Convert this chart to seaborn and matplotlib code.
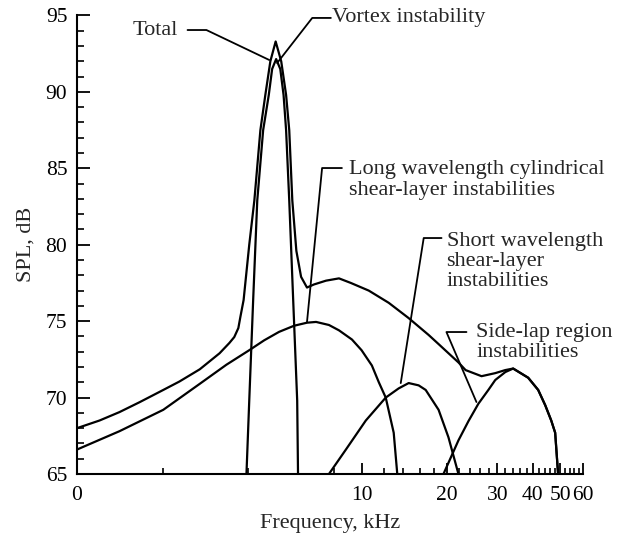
import matplotlib
matplotlib.use("Agg")
import matplotlib.pyplot as plt
from matplotlib.ticker import FixedLocator, NullFormatter, MultipleLocator
import pandas as pd
import seaborn as sns

# ---------------- data ----------------
total_freq = [1.00, 1.20, 1.41, 1.66, 2.01, 2.29, 2.70, 3.17, 3.43, 3.57, 3.69, 3.75,
              3.85, 4.03, 4.20, 4.41, 4.59, 4.78, 4.99, 5.22, 5.43, 5.57, 5.71, 5.90,
              6.13, 6.43, 6.80, 7.50, 8.33, 9.17, 10.6, 12.46, 14.64, 17.2, 18.65,
              21.9, 23.2, 26.4, 29.5, 32.0, 34.1, 38.5, 41.75, 44.2, 46.4, 47.9, 49.05]
total_spl = [68.0, 68.5, 69.05, 69.7, 70.5, 71.05, 71.85, 72.9, 73.57, 73.96, 74.55, 75.27,
             76.38, 80.0, 82.9, 87.5, 89.8, 92.0, 93.3, 92.0, 89.8, 87.5, 82.9, 79.6,
             77.9, 77.2, 77.4, 77.65, 77.8, 77.5, 77.0, 76.2, 75.2, 74.1, 73.5,
             72.3, 71.8, 71.4, 71.6, 71.8, 71.9, 71.3, 70.5, 69.5, 68.5, 67.7, 65.0]

vortex_freq = [3.94, 4.03, 4.16, 4.30, 4.51, 4.72, 4.85, 5.01, 5.18, 5.32, 5.43, 5.57,
               5.75, 5.94, 5.98]
vortex_spl = [65.0, 69.8, 76.4, 82.9, 87.5, 89.8, 91.5, 92.15, 91.5, 89.8, 87.5, 82.9,
              76.4, 69.8, 65.0]

long_freq = [1.00, 1.41, 2.01, 2.70, 3.35, 4.03, 4.55, 5.13, 5.79, 6.43, 6.92, 7.68,
             8.33, 9.25, 10.0, 10.87, 11.5, 12.16, 12.97, 13.35]
long_spl = [66.6, 67.8, 69.2, 70.9, 72.15, 73.1, 73.75, 74.3, 74.7, 74.9, 74.95, 74.75,
            74.4, 73.8, 73.1, 72.1, 71.0, 70.0, 67.7, 65.0]

short_freq = [7.68, 8.81, 10.35, 12.16, 13.5, 14.64, 15.87, 16.8, 18.65, 20.2, 21.9]
short_spl = [65.0, 66.6, 68.5, 70.0, 70.6, 70.95, 70.8, 70.5, 69.2, 67.4, 65.0]

side_freq = [19.4, 21.9, 23.75, 25.74, 27.9, 29.5, 32.0, 34.1, 38.5, 41.75, 44.2,
             46.4, 47.9, 49.05]
side_spl = [65.0, 67.2, 68.46, 69.6, 70.5, 71.15, 71.67, 71.9, 71.3, 70.5, 69.5,
            68.5, 67.7, 65.0]

x_major = [1, 10, 20, 30, 40, 50, 60]
x_major_labels = ["0", "10", "20", "30", "40", "50", "60"]
x_minor = [v for v in range(2, 60, 2) if v % 10 != 0]
y_major = [65, 70, 75, 80, 85, 90, 95]

# ---------------- style ----------------
FS = 16
TFS = 15.5
sns.set_style("ticks")
plt.rcParams["font.family"] = ["Liberation Serif", "DejaVu Serif"]
plt.rcParams["font.size"] = FS
plt.rcParams["axes.linewidth"] = 1.5

fig = plt.figure(figsize=(6.19, 5.42), dpi=100)
ax = fig.add_axes([77 / 619, 68 / 542, 506 / 619, 458.5 / 542])
ax.set_xscale("log")

frames = []
for name, f, s in [("Total", total_freq, total_spl),
                   ("Vortex", vortex_freq, vortex_spl),
                   ("Long", long_freq, long_spl),
                   ("Short", short_freq, short_spl),
                   ("Side", side_freq, side_spl)]:
    frames.append(pd.DataFrame({"curve": name, "freq": f, "spl": s}))
df = pd.concat(frames, ignore_index=True)

sns.lineplot(data=df, x="freq", y="spl", units="curve", estimator=None, sort=False,
             color="black", linewidth=1.6, ax=ax, legend=False)

ax.set_xlim(1, 60)
ax.set_ylim(65, 95)
ax.xaxis.set_major_locator(FixedLocator(x_major))
ax.set_xticklabels(x_major_labels)
ax.xaxis.set_minor_locator(FixedLocator(x_minor))
ax.xaxis.set_minor_formatter(NullFormatter())
ax.yaxis.set_major_locator(FixedLocator(y_major))
ax.yaxis.set_minor_locator(MultipleLocator(1))

ax.tick_params(axis="both", which="both", direction="in", colors="black",
               labelcolor="black", labelsize=TFS)
ax.tick_params(axis="x", which="major", length=8, width=1.3, pad=9)
ax.tick_params(axis="x", which="minor", length=4.5, width=1.2)
ax.tick_params(axis="y", which="major", length=9, width=1.3, pad=7)
ax.tick_params(axis="y", which="minor", length=5, width=1.2)

for side in ["top", "right"]:
    ax.spines[side].set_visible(False)
for side in ["left", "bottom"]:
    ax.spines[side].set_color("black")

ax.set_xlabel("Frequency, kHz", fontsize=FS, labelpad=6)
ax.set_ylabel("SPL, dB", fontsize=FS, labelpad=7)

# ---------------- annotations ----------------
lead = dict(arrowstyle="-", color="black", lw=1.3, shrinkA=0, shrinkB=0)

def leader(start, end, angle_b):
    ax.annotate("", xy=end, xytext=start, xycoords="data", textcoords="data",
                arrowprops=dict(lead, connectionstyle=f"angle,angleA=0,angleB={angle_b},rad=0"),
                annotation_clip=False)

ax.text(2.257, 94.05, "Total", ha="right", va="center", fontsize=FS)
leader((2.446, 94.05), (4.737, 92.09), 154.5)

ax.text(7.87, 94.84, "Vortex instability", ha="left", va="center", fontsize=FS)
leader((7.80, 94.84), (5.05, 91.89), 52.1)

ax.text(9.03, 84.23, "Long wavelength cylindrical\nshear-layer instabilities",
        ha="left", va="center", fontsize=FS, linespacing=1.17)
leader((8.53, 85.02), (6.43, 74.94), 84.4)

ax.text(19.89, 78.9, "Short wavelength\nshear-layer\ninstabilities",
        ha="left", va="center", fontsize=FS, linespacing=1.05)
leader((19.1, 80.44), (13.73, 70.95), 81.0)

ax.text(25.33, 73.6, "Side-lap region\ninstabilities",
        ha="left", va="center", fontsize=FS, linespacing=1.05)
leader((23.37, 74.29), (25.33, 69.71), 113.2)

fig.savefig("out.png", dpi=100)
